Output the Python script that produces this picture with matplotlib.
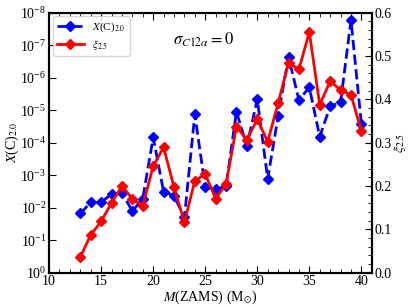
import matplotlib
matplotlib.use('Agg')
import matplotlib.pyplot as plt
from matplotlib.ticker import MultipleLocator, LogLocator, NullLocator

plt.rcParams['font.family'] = ['Liberation Serif', 'DejaVu Serif']
plt.rcParams['mathtext.fontset'] = 'stix'
plt.rcParams['font.size'] = 10

mass = [13, 14, 15, 16, 17, 18, 19, 20, 21, 22, 23, 24, 25, 26,
        27, 28, 29, 30, 31, 32, 33, 34, 35, 36, 37, 38, 39, 40]
log_xc = [-1.82, -2.16, -2.16, -2.42, -2.46, -1.89, -2.28, -4.16, -2.49, -2.36,
          -1.70, -4.87, -2.62, -2.56, -2.66, -4.95, -3.89, -5.34, -2.88, -4.81,
          -6.64, -5.31, -5.70, -4.18, -5.12, -5.24, -7.77, -4.57]
xc = [10 ** v for v in log_xc]
xi = [0.036, 0.087, 0.118, 0.161, 0.200, 0.170, 0.154, 0.246, 0.289, 0.197,
      0.116, 0.212, 0.227, 0.171, 0.204, 0.337, 0.306, 0.354, 0.302, 0.391,
      0.484, 0.469, 0.555, 0.387, 0.442, 0.421, 0.410, 0.327]

fig = plt.figure(figsize=(4.09, 3.07), dpi=100)
ax = fig.add_axes([0.12, 0.112, 0.789, 0.847])
l1, = ax.plot(mass, xc, 'b--', marker='D', ms=5.5, lw=2, label=r'$X$(C)$_{2.0}$')
ax.set_yscale('log')
ax.set_ylim(1e0, 1e-8)
ax.set_xlim(10, 41)
ax.yaxis.set_major_locator(LogLocator(base=10, numticks=20))
ax.yaxis.set_minor_locator(NullLocator())
ax.xaxis.set_major_locator(MultipleLocator(5))
ax.xaxis.set_minor_locator(MultipleLocator(1))
ax.tick_params(which='both', direction='in', top=True, labelsize=10, pad=2)
ax.tick_params(which='major', length=5)
ax.tick_params(which='minor', length=3)
ax.set_xlabel(r'$M$(ZAMS) (M$_{\odot}$)', labelpad=0)
ax.set_ylabel(r'$X$(C)$_{2.0}$', labelpad=-1)

ax2 = ax.twinx()
l2, = ax2.plot(mass, xi, 'r-', marker='D', ms=5.5, lw=2, label=r'$\xi_{2.5}$')
ax2.set_ylim(0, 0.6)
ax2.yaxis.set_major_locator(MultipleLocator(0.1))
ax2.yaxis.set_minor_locator(MultipleLocator(0.02))
ax2.tick_params(which='both', direction='in', labelsize=10, pad=2)
ax2.tick_params(which='major', length=5)
ax2.tick_params(which='minor', length=3)
ax2.set_ylabel(r'$\xi_{2.5}$', labelpad=0)

for a in (ax, ax2):
    for s in a.spines.values():
        s.set_linewidth(1.5)

ax.text(21.9, 7e-8, r'$\sigma_{C12\alpha}=0$', fontsize=12, va='center')
ax.legend(handles=[l1, l2], loc='upper left', fontsize=8,
          borderaxespad=0.35, handlelength=2.4, labelspacing=0.35,
          borderpad=0.35)

fig.savefig('out.png', dpi=100)
